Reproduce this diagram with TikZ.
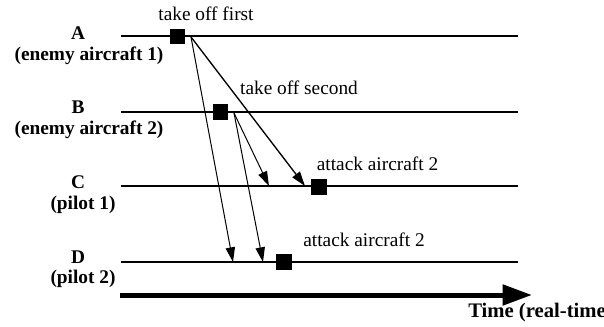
\documentclass[tikz,border=0pt]{standalone}
\usepackage{fontspec}
\setmainfont{Liberation Serif}
\usetikzlibrary{%
  arrows.meta,%
  positioning% wg. " of "
}

\begin{document}
\begin{tikzpicture}[
    x=0.75pt,y=-0.75pt,
    >={Triangle[length=11pt,width=7pt]},
    lane/.style={line width=0.9pt},
    event/.style={rectangle,fill=black,inner sep=0pt,minimum size=11.5pt},
    msg/.style={->,line width=0.75pt},
    who/.style={font=\bfseries,inner sep=0pt},
    note/.style={inner sep=0pt},
    timeline/.style={-{Triangle[length=22pt,width=15pt]},line width=3.75pt}
  ]

    \fontsize{14.5}{17.4}\selectfont
    \useasboundingbox (0,0) rectangle (604,326);

    % lanes
    \foreach \n/\y in {A/36,B/112,C/186,D/262} {
        \coordinate (\n-w) at (121,\y);
        \coordinate (\n-e) at (518,\y);
        \draw [lane] (\n-w) -- (\n-e);
    }

    \node [who] (A)     at (78,33)  {A};
    \node [who] (Adesc) at (89,56)  {(enemy aircraft 1)};
    \node [who] (B)     at (78,107) {B};
    \node [who] (Bdesc) at (89,130) {(enemy aircraft 2)};
    \node [who] (C)     at (78,182) {C};
    \node [who] (Cdesc) at (83,205) {(pilot 1)};
    \node [who] (D)     at (78,257) {D};
    \node [who] (Ddesc) at (83,279) {(pilot 2)};

    % events
    \node [event] (takeoff1) at (177.5,36.5) {};
    \node [event] (takeoff2) at (220.5,112)  {};
    \node [event] (attackC)  at (319,187)    {};
    \node [event] (attackD)  at (284,262)    {};

    \node [note] (takeoff1-l) at (206,14)    {take off first};
    \node [note] (takeoff2-l) at (299,88)    {take off second};
    \node [note] (attackC-l)  at (377.5,164) {attack aircraft 2};
    \node [note] (attackD-l)  at (364,240)   {attack aircraft 2};

    % messages
    \coordinate (A-out) at (191,37);
    \coordinate (B-out) at (234,113);
    \coordinate (C-in1) at (269,186);
    \coordinate (C-in2) at (305,186);
    \coordinate (D-in1) at (233,262);
    \coordinate (D-in2) at (263,262);

    \draw [msg] (A-out) -- (D-in1);
    \draw [msg,line width=1pt] (A-out) -- (C-in2);
    \draw [msg] (B-out) -- (D-in2);
    \draw [msg] (B-out) -- (C-in1);

    % time axis
    \coordinate (t0) at (120,295);
    \coordinate (t1) at (532,295);
    \draw [timeline] (t0) -- (t1);
    \node [who,anchor=west,font=\bfseries\fontsize{15.5}{18}\selectfont] (time) at (468,313) {Time (real-time)};
\end{tikzpicture}
\end{document}
